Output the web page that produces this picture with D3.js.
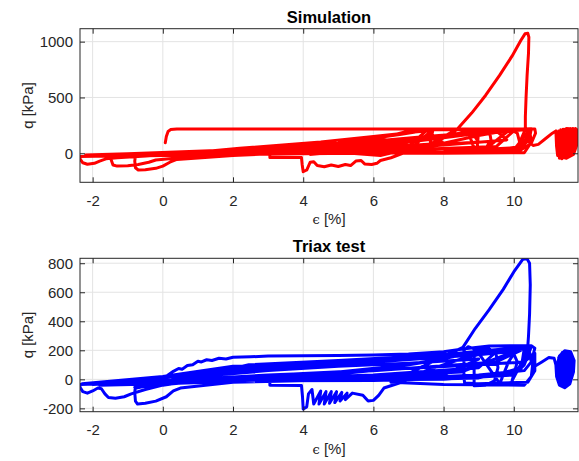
<!DOCTYPE html>
<html>
<head>
<meta charset="utf-8">
<script src="https://cdn.jsdelivr.net/npm/d3@7"></script>
<style>
  body { margin: 0; background: #fff; }
  text { font-family: "Liberation Sans", Arial, sans-serif; }
</style>
</head>
<body>
<script>
// ---- data: [strain %, q kPa] ----
var xTicks = [-2, 0, 2, 4, 6, 8, 10];
var simYTicks = [0, 500, 1000];
var triYTicks = [-200, 0, 200, 400, 600, 800];

var simStart = [[0.07,95],[0.1,150],[0.15,195],[0.22,212],[0.4,218],[3,218],[6,218],[9,218],[10.6,218]];
var simCycles = [
  [10.62,180],[10.5,90],[10.2,30],[9,12],[7,5],[4,-5],[1,-15],[-1,-22],[-2.36,-28],
  [-2.36,-50],[-2.28,-85],[-2.15,-98],[-1.95,-90],[-1.8,-70],[-1.62,-50],[-1.3,-40],
  [0,-15],[2,10],[4,40],[6,80],[7,110],[8.5,170],[10.3,218],[10.5,218],
  [10.45,140],[10.2,60],[9.3,20],[7,8],[5,0],[3,-8],[1,-15],[-0.5,-22],[-1.45,-25],
  [-1.47,-60],[-1.42,-105],[-1.3,-115],[-1.0,-112],[-0.7,-100],[-0.4,-80],[-0.2,-60],
  [1,-25],[3,10],[5,45],[7,100],[8,140],[9.5,200],[10.4,218],
  [10.35,120],[10,40],[8,10],[5,0],[2,-10],[0,-18],[-0.78,-25],
  [-0.8,-70],[-0.78,-130],[-0.7,-150],[-0.5,-148],[-0.2,-135],[0,-115],[0.2,-80],[0.4,-55],
  [2,-20],[4,10],[6,50],[7,100],[8.2,160],[9.8,215],[10.5,220],
  [10.3,150],[10.1,50],[8,15],[5,0],[3.05,-5],
  [3.05,-38],[3.95,-38],[3.97,-100],[4.0,-165],[4.1,-150],[4.2,-80],[4.3,-75],[4.4,-110],
  [4.6,-120],[4.8,-105],[5.0,-118],[5.2,-100],[5.35,-110],[5.5,-70],[5.65,-65],[5.75,-95],
  [5.95,-100],[6.1,-90],[6.2,-65],[6.5,-40],[7,20],[8,90],[9,160],[10,215],[10.5,220],
  [10.4,110],[10.1,20],[7,0],[4,20],[2,5],[4.5,60],[6,120],[6.9,190],[7.2,210]
];
var simFan = [
  [10.3,210],[7,120],[4,50],[1,0],[-1.8,-20],
  [-1.2,-15],[2,25],[5,80],[7.5,150],[9.5,200],
  [9.8,120],[7,50],[4,15],[1,-8],[-2,-20],
  [-1.5,-10],[1.5,20],[4,55],[6.5,110],[8.8,190],
  [9,100],[6,40],[3,5],[0,-12],[-2.2,-15],
  [-1,-5],[2.5,35],[5,90],[6.8,170],[7.5,205],
  [8,90],[5,30],[2,0],[-0.5,-10],
  [1,15],[3.5,50],[6,100],[8,150],[10,200],
  [9.5,60],[6,20],[3,-2],[0.5,-5],
  [2.19,45],[4.5,100],[6,150],[7,185],[7.5,200],
  [7,60],[4.2,-10],[5,10],[6.2,-20],[7,40]
];
var simHatch = [
  [6.95,100],[6.9,0],[7.7,215],[7.6,60],[8.4,215],[8.7,190],[8.85,60],[8.95,30],[9.0,200],
  [9.3,215],[9.35,120],[9.2,40],[9.9,215],[10.1,180],[10.2,60],[10.0,30],[10.45,210],
  [10.5,100],[10.3,5],[8,0],[6.9,0],[7.5,60],[8.4,220]
];
var simPeak = [
  [8.8,360],[9.2,520],[9.6,700],[9.95,870],[10.2,1010],[10.32,1070],[10.4,1075],[10.43,1040],
  [10.42,900],[10.38,700],[10.35,500],[10.33,330],[10.33,215],[10.2,120]
];
var simTail = [
  [10.4,110],[10.55,70],[10.7,80],[10.9,130],[11.1,180],[11.2,200],[11.22,60],[11.25,-20],
  [11.28,200],[11.3,-45],[11.34,210],[11.37,-50],[11.41,215],[11.44,-40],[11.48,218],
  [11.51,-35],[11.55,220],[11.58,-30],[11.62,220],[11.65,-20],[11.69,222],[11.72,40],
  [11.76,222],[11.8,210],[11.8,80],[11.7,-10],[11.5,-45],[11.32,-30],[11.3,190],[11.5,222],[11.78,215]
];

var triStart = [
  [0.05,10],[0.15,30],[0.3,55],[0.45,75],[0.55,70],[0.7,95],[0.85,100],[1.0,125],[1.1,120],
  [1.25,135],[1.4,130],[1.6,145],[1.8,140],[2.0,152],[2.5,155],[3,160],[4,163],[5,165],
  [6,168],[7,175],[8,190],[8.6,210],[9.3,230],[10.5,232],[10.6,215],[10.5,120],[10.3,60],
  [9,30],[7,10],[4,-5],[1,-15],[-1,-25],[-2.36,-35]
];
var triCycles = [
  [-2.36,-55],[-2.28,-85],[-2.15,-95],[-2.0,-80],[-1.85,-60],[-1.75,-65],[-1.65,-100],
  [-1.55,-125],[-1.35,-130],[-1.1,-120],[-0.9,-100],[-0.5,-70],[0,-40],[1,-5],[3,20],
  [5,50],[7,100],[8.5,170],[10,215],[10.4,220],
  [10.3,120],[10,40],[8,10],[5,0],[2,-15],[0,-30],[-0.78,-45],
  [-0.8,-90],[-0.78,-150],[-0.72,-170],[-0.5,-165],[-0.2,-150],[0.1,-120],[0.3,-80],[0.5,-60],
  [2,-20],[4,15],[6,60],[7.5,120],[9,190],[10.4,225],
  [10.2,80],[9.5,30],[7,10],[4,0],[1,-15],[-0.8,-55],[-0.75,-60],[0.3,-5],[1.2,30],
  [2.45,100],[5,130],[8,170],[9.3,200],[10.5,225],
  [10.3,100],[10,30],[8,0],[5,-5],[2,-20],[0.5,-10],[1.5,40],[3,80],[6,120],[9,180],[10.3,215],
  [10.2,60],[9,10],[6,-8],[3.05,-10],
  [3.05,-40],[3.95,-42],[3.98,-120],[4.0,-205],[4.1,-190],[4.15,-100],[4.25,-70],[4.3,-170],
  [4.5,-80],[4.45,-170],[4.65,-85],[4.6,-170],[4.8,-85],[4.75,-165],[4.95,-85],[4.9,-160],
  [5.1,-90],[5.05,-150],[5.25,-95],[5.2,-140],[5.4,-95],[5.7,-110],[5.85,-150],[6.0,-145],
  [6.15,-110],[6.3,-60],[6.8,-20],[7.5,60],[8.5,140],[9.5,200],[10.5,225]
];
var triFan = [
  [10.4,210],[8,160],[5,120],[2,90],[0,20],[-2.3,-30],
  [-1.5,-20],[1,30],[3,80],[6,120],[9,170],[10.2,200],
  [9.5,120],[6,60],[3,30],[0,-10],[-2,-35],
  [-1,-15],[1.5,50],[4,100],[7,140],[9.5,190],
  [9,80],[6,30],[3,5],[0,-30],[-1.8,-40],
  [-0.5,0],[2,70],[4.5,115],[8,155],[10,190],
  [8.5,50],[5,10],[2,-5],[0.3,-20],
  [1,20],[3,60],[5,90],[7,110],[9,140],
  [8,30],[5,0],[2,-10],[0,-25],
  [1.5,10],[4,40],[6.5,70],[9,100],[10.3,120]
];
var triHatch = [
  [10.6,180],[10.6,60],[10.4,-20],[9,-30],[8.6,-25],[8.58,10],[8.58,200],[8.7,225],[8.87,210],
  [8.87,-45],[9.2,-40],[9.45,-10],[9.55,80],[9.5,170],[9.3,210],[8.9,215],[9.6,-30],
  [9.85,120],[10.0,175],[10.1,120],[9.95,-10],[10.3,150],[10.45,185],[10.55,130],[10.5,20],
  [10.3,-40],[8,-35],[6.5,-20],[7.5,100],[8.55,220]
];
var triPeak = [
  [8.9,350],[9.3,480],[9.7,620],[10.0,740],[10.25,825],[10.37,834],[10.45,800],[10.47,650],
  [10.45,450],[10.42,300],[10.4,230],[10.5,120]
];
var triTail = [
  [10.6,90],[10.8,120],[11.0,150],[11.15,145],[11.2,100],[11.22,20],[11.3,-40],[11.45,-58],
  [11.6,-30],[11.7,50],[11.72,130],[11.62,190],[11.45,197],[11.3,160],[11.22,80],[11.28,-10],
  [11.42,-45],[11.58,-20],[11.66,60],[11.65,140],[11.55,180],[11.42,170],[11.32,110],
  [11.32,30],[11.4,-20],[11.52,-10],[11.58,60],[11.56,130],[11.45,150],[11.4,80],[11.45,20],
  [11.5,-35],[11.62,0],[11.68,90],[11.6,165],[11.38,185],[11.26,120],[11.25,40],[11.35,-30],
  [11.48,-50],[11.55,40],[11.5,110],[11.45,60],
  [11.45,130],[11.55,100],[11.6,40],[11.55,-10],[11.45,-30],[11.35,0],[11.3,60],[11.35,120],
  [11.45,140],[11.52,80],[11.5,20],[11.42,0],[11.38,50],[11.42,110],[11.62,120],[11.66,30],
  [11.3,-20],[11.28,150],[11.5,175],[11.68,100],[11.36,70],[11.48,160],[11.6,-10]
];

var simPath = simStart.concat(simCycles, simFan, simHatch, simPeak, simTail);
var triPath = triStart.concat(triCycles, triFan, triHatch, triPeak, triTail);

var w = 579, h = 461;
var left = 80, right = 578;
var axColor = "#262626";

var svg = d3.select("body").append("svg")
  .attr("width", w)
  .attr("height", h);

function panel(id, top, bottom, yDomain, yTicks, path, color, title) {
  var x = d3.scaleLinear().domain([-2.36, 11.83]).range([left, right]);
  var y = d3.scaleLinear().domain(yDomain).range([bottom, top]);
  var g = svg.append("g");
  var fmt = function(d){ return String(d); };

  // grid
  g.selectAll(".gx").data(xTicks).enter().append("line")
    .attr("x1", function(d){ return x(d); }).attr("x2", function(d){ return x(d); })
    .attr("y1", top).attr("y2", bottom)
    .attr("stroke", "#e3e3e3").attr("stroke-width", 1);
  g.selectAll(".gy").data(yTicks).enter().append("line")
    .attr("x1", left).attr("x2", right)
    .attr("y1", function(d){ return y(d); }).attr("y2", function(d){ return y(d); })
    .attr("stroke", "#e3e3e3").attr("stroke-width", 1);

  svg.append("clipPath").attr("id", id)
    .append("rect").attr("x", left).attr("y", top)
    .attr("width", right - left).attr("height", bottom - top);

  var line = d3.line()
    .x(function(d){ return x(d[0]); })
    .y(function(d){ return y(d[1]); });

  g.append("path")
    .datum(path)
    .attr("clip-path", "url(#" + id + ")")
    .attr("d", line)
    .attr("fill", "none")
    .attr("stroke", color)
    .attr("stroke-width", 3)
    .attr("stroke-linejoin", "round")
    .attr("stroke-linecap", "round");

  // axes, ticks pointing inward
  var xAxis = d3.axisBottom(x).tickValues(xTicks).tickSize(-5).tickPadding(13).tickFormat(fmt);
  var yAxis = d3.axisLeft(y).tickValues(yTicks).tickSize(-5).tickPadding(7).tickFormat(fmt);
  g.append("g").attr("transform", "translate(0," + bottom + ")").call(xAxis);
  g.append("g").attr("transform", "translate(" + left + ",0)").call(yAxis);
  g.append("g").attr("transform", "translate(0," + top + ")")
    .call(d3.axisTop(x).tickValues(xTicks).tickSize(-5).tickFormat(""));
  g.append("g").attr("transform", "translate(" + right + ",0)")
    .call(d3.axisRight(y).tickValues(yTicks).tickSize(-5).tickFormat(""));
  g.selectAll(".domain").remove();
  g.selectAll(".tick line").attr("stroke", axColor);
  g.selectAll(".tick text").attr("fill", axColor)
    .style("font-size", "15px").style("font-family", "Liberation Sans, Arial, sans-serif");

  g.append("rect")
    .attr("x", left).attr("y", top)
    .attr("width", right - left).attr("height", bottom - top)
    .attr("fill", "none").attr("stroke", axColor).attr("stroke-width", 1);

  g.append("text")
    .attr("x", (left + right) / 2).attr("y", top - 6)
    .attr("text-anchor", "middle")
    .style("font-size", "16.5px").style("font-weight", "bold")
    .attr("fill", "#000")
    .text(title);

  var xl = g.append("text")
    .attr("x", (left + right) / 2).attr("y", bottom + 42)
    .attr("text-anchor", "middle")
    .style("font-size", "15px")
    .attr("fill", axColor);
  xl.append("tspan").style("font-family", "DejaVu Serif, serif").style("font-size", "13px").text("\u03F5");
  xl.append("tspan").text(" [%]");

  g.append("text")
    .attr("transform", "translate(33," + (top + bottom) / 2 + ") rotate(-90)")
    .attr("text-anchor", "middle")
    .style("font-size", "15px")
    .attr("fill", axColor)
    .text("q [kPa]");
}

panel("clipSim", 28.7, 182.3, [-260, 1116], simYTicks, simPath, "#ff0000", "Simulation");
panel("clipTri", 258.3, 411.7, [-223, 834], triYTicks, triPath, "#0000ff", "Triax test");
</script>
</body>
</html>
